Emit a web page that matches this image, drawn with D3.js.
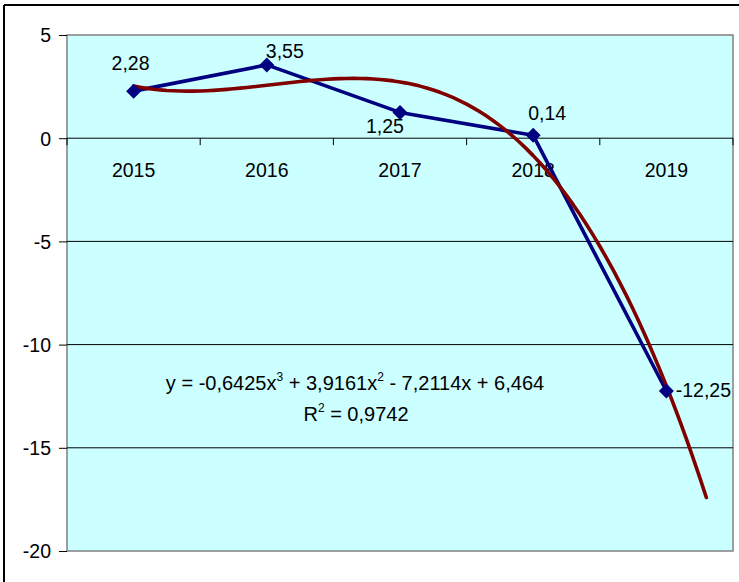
<html>
<head>
<meta charset="utf-8">
<script src="https://d3js.org/d3.v7.min.js"></script>
<style>
body { margin: 0; background: #fff; }
text { font-family: "Liberation Sans", Arial, sans-serif; fill: #000; }
</style>
</head>
<body>
<svg width="739" height="582"></svg>
<script>
// chart values
const years = ["2015", "2016", "2017", "2018", "2019"];
const values = [2.28, 3.55, 1.25, 0.14, -12.25];
const valueLabels = ["2,28", "3,55", "1,25", "0,14", "-12,25"];
const yTicks = [5, 0, -5, -10, -15, -20];
const gridValues = [-5, -10, -15];
// polynomial trend (x = 1..5), coefficients from x^3 down to constant
const trendCoef = [-0.6425, 3.9161, -7.2114, 6.464];
const trendForward = 0.3;

// label nudges relative to marker (dx, dy)
const labelNudge = [[-3, -21], [18, -7], [-15, 21], [14, -15], [37, 6]];

var svg = d3.select("svg");
var pLeft = 67, pRight = 733, pTop = 35, pBottom = 551;

var x = d3.scaleBand().domain(years).range([pLeft, pRight]);
var xNum = d3.scaleLinear().domain([0.5, 5.5]).range([pLeft, pRight]);
var y = d3.scaleLinear().domain([-20, 5]).range([pBottom, pTop]);

// outer frame (top and left edges only)
svg.append("line").attr("x1", 4).attr("x2", 739).attr("y1", 5).attr("y2", 5)
    .attr("stroke", "#000").attr("stroke-width", 2);
svg.append("line").attr("x1", 4).attr("x2", 4).attr("y1", 5).attr("y2", 582)
    .attr("stroke", "#000").attr("stroke-width", 2);

// plot area
svg.append("rect")
    .attr("x", pLeft).attr("y", pTop)
    .attr("width", pRight - pLeft).attr("height", pBottom - pTop)
    .attr("fill", "#CCFFFF").attr("stroke", "#808080").attr("stroke-width", 1.5);

// gridlines
svg.append("g").selectAll("line").data(gridValues).enter().append("line")
    .attr("x1", pLeft).attr("x2", pRight)
    .attr("y1", d => y(d)).attr("y2", d => y(d))
    .attr("stroke", "#000").attr("stroke-width", 1);

// y axis
var yAxis = svg.append("g")
    .attr("transform", "translate(" + pLeft + ",0)")
    .call(d3.axisLeft(y).tickValues(yTicks).tickSize(8).tickPadding(8).tickFormat(d => String(d)));
yAxis.select(".domain").remove();
yAxis.selectAll("line").attr("stroke", "#000");
yAxis.selectAll("text").style("font-size", "19.5px").attr("dy", "0.35em")
    .style("font-family", "'Liberation Sans', Arial, sans-serif");

// category axis on the zero line
var xAxis = svg.append("g")
    .attr("transform", "translate(0," + y(0) + ")")
    .call(d3.axisBottom(x).tickSize(0).tickPadding(0));
xAxis.select(".domain").attr("stroke", "#000").attr("d", "M" + pLeft + ",0H" + pRight);
xAxis.selectAll("text").style("font-size", "19.5px").attr("y", 39).attr("dy", 0)
    .style("font-family", "'Liberation Sans', Arial, sans-serif");
var bounds = x.domain().map(d => x(d)).concat([pRight]);
xAxis.selectAll(".bound").data(bounds).enter().append("line")
    .attr("class", "bound")
    .attr("x1", d => d).attr("x2", d => d).attr("y1", 0).attr("y2", 7)
    .attr("stroke", "#000");

// data series
var pts = years.map((yr, i) => ({yr: yr, v: values[i], lab: valueLabels[i], n: labelNudge[i]}));
var cx = d => x(d.yr) + x.bandwidth() / 2;

svg.append("path").datum(pts)
    .attr("fill", "none").attr("stroke", "#000080").attr("stroke-width", 3.6)
    .attr("stroke-linejoin", "round")
    .attr("d", d3.line().x(cx).y(d => y(d.v)));

// trend line
function poly(t) {
    return trendCoef[0] * t * t * t + trendCoef[1] * t * t + trendCoef[2] * t + trendCoef[3];
}
var tx = d3.range(1, 5 + trendForward + 0.0001, 0.05);
svg.append("path").datum(tx)
    .attr("fill", "none").attr("stroke", "#800000").attr("stroke-width", 3.6)
    .attr("stroke-linecap", "round").attr("stroke-linejoin", "round")
    .attr("d", d3.line().x(t => xNum(t)).y(t => y(poly(t))));

// markers
svg.append("g").selectAll("path").data(pts).enter().append("path")
    .attr("transform", d => "translate(" + cx(d) + "," + y(d.v) + ")")
    .attr("d", "M0,-7.5L7.5,0L0,7.5L-7.5,0Z")
    .attr("fill", "#000080");

// data labels
svg.append("g").selectAll("text").data(pts).enter().append("text")
    .attr("x", d => cx(d) + d.n[0])
    .attr("y", d => y(d.v) + d.n[1])
    .attr("text-anchor", "middle")
    .style("font-size", "19.5px")
    .text(d => d.lab);

// trend equation
var eq = svg.append("text").attr("x", 355).attr("y", 390)
    .attr("text-anchor", "middle").style("font-size", "20px");
eq.append("tspan").text("y = -0,6425x");
eq.append("tspan").attr("dy", -9).style("font-size", "12px").text("3");
eq.append("tspan").attr("dy", 9).text(" + 3,9161x");
eq.append("tspan").attr("dy", -9).style("font-size", "12px").text("2");
eq.append("tspan").attr("dy", 9).text(" - 7,2114x + 6,464");

var r2 = svg.append("text").attr("x", 356).attr("y", 421)
    .attr("text-anchor", "middle").style("font-size", "20px");
r2.append("tspan").text("R");
r2.append("tspan").attr("dy", -9).style("font-size", "12px").text("2");
r2.append("tspan").attr("dy", 9).text(" = 0,9742");
</script>
</body>
</html>
